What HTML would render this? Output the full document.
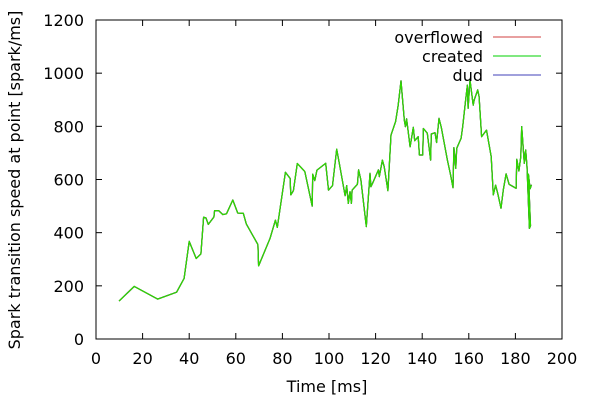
<!DOCTYPE html>
<html><head><meta charset="utf-8"><style>
body{margin:0;background:#fff}
svg{display:block;font-family:"DejaVu Sans","Liberation Sans",sans-serif}
</style></head><body>
<svg id="chart" width="600" height="400">
<rect x="96" y="20" width="466" height="319" fill="none" stroke="#000" stroke-width="1"/>
<g id="axes"></g>
<g id="series"></g>
<text x="327" y="392" font-size="16" text-anchor="middle">Time [ms]</text>
<text transform="translate(20,180) rotate(-90)" font-size="16" text-anchor="middle">Spark transition speed at point [spark/ms]</text>
<g>
<text x="483" y="43" font-size="16" text-anchor="end">overflowed</text>
<line x1="493" y1="37" x2="541" y2="37" stroke="#c00000" stroke-width="0.8"/>
<text x="483" y="62" font-size="16" text-anchor="end">created</text>
<line x1="493" y1="56" x2="541" y2="56" stroke="#00d000" stroke-width="1"/>
<text x="483" y="81" font-size="16" text-anchor="end">dud</text>
<line x1="493" y1="75" x2="541" y2="75" stroke="#0000a0" stroke-width="0.8"/>
</g>
</svg>
<script>
const xTicks=[0,20,40,60,80,100,120,140,160,180,200];
const yTicks=[0,200,400,600,800,1000,1200];
const times=[9.9,16.4,26.5,34.6,37.8,40,43,45,46.2,47.2,48.2,50.6,50.9,52.6,54.4,56,58.7,60.8,63.2,64.5,69.5,69.8,74.7,77,77.8,81.3,83.3,83.6,84.7,86.4,89.6,92.8,93,93.9,94.8,98.6,99.8,101.5,103.3,104.4,106.9,107.6,108.3,109,109.6,109.9,112.2,112.7,113.7,116,117.6,118,118.7,121.2,121.6,122.9,123.7,125.3,126.6,128.6,129.7,130.9,132.3,132.8,133.3,134.8,136.2,136.8,138.3,138.8,140.2,140.5,142.2,143.6,143.9,145.5,146.2,147.2,148.2,150.8,152.2,153.2,153.6,154.4,154.8,156.7,157.4,158.7,159.4,159.7,160.5,161.9,162.3,163.8,164.4,165.5,167.6,169.6,170.5,171.5,172.4,173.8,174.8,176,177.3,180.3,180.6,181.5,182.3,182.7,183.8,184.4,185,186,186.5,185.6,186.3,186.9];
const created=[143,198,150,176,228,367,303,320,458,455,431,459,483,483,468,471,523,474,473,433,355,275,379,447,420,627,604,542,558,660,630,500,620,596,635,661,560,577,714,661,539,577,510,554,510,560,582,636,598,423,623,573,586,636,611,673,648,558,767,818,880,971,824,799,828,723,796,746,761,692,692,792,774,673,771,776,739,830,796,673,617,569,720,642,717,755,799,905,955,868,974,880,899,937,911,761,786,686,542,579,548,492,561,621,582,567,676,632,686,799,661,711,648,416,426,620,565,580];
const overflowed=created.slice();
const dud=created.slice();
const NS='http://www.w3.org/2000/svg';
const X0=96,X1=562,Y0=339,Y1=20;
function sx(t){return X0+(t-0)/(200-0)*(X1-X0);}
function sy(v){return Y0-(v-0)/(1200-0)*(Y0-Y1);}
const axes=document.getElementById('axes');
function mk(tag,attrs,parent){const e=document.createElementNS(NS,tag);for(const k in attrs)e.setAttribute(k,attrs[k]);parent.appendChild(e);return e;}
xTicks.forEach(t=>{
 const l1=mk('line',{x1:sx(t),x2:sx(t),y1:Y0,y2:Y0-6,stroke:'#000'},axes);
 
 
 const l2=mk('line',{x1:sx(t),x2:sx(t),y1:Y1,y2:Y1+6,stroke:'#000'},axes);
 
 
 const tx=mk('text',{x:sx(t),y:364,'font-size':16,'text-anchor':'middle'},axes);
 tx.textContent=t;
 
 
});
yTicks.forEach(v=>{
 const l1=mk('line',{x1:X0,x2:X0+6,y1:sy(v),y2:sy(v),stroke:'#000'},axes);
 
 
 const l2=mk('line',{x1:X1,x2:X1-6,y1:sy(v),y2:sy(v),stroke:'#000'},axes);
 
 
 const tx=mk('text',{x:84,y:sy(v)+6,'font-size':16,'text-anchor':'end'},axes);
 tx.textContent=v;
 
 
});
const series=document.getElementById('series');
function draw(vals,color,name,w){
 const pts=vals.map((v,i)=>sx(times[i]).toFixed(1)+','+sy(v).toFixed(1)).join(' ');
 const p=mk('polyline',{points:pts,fill:'none',stroke:color,'stroke-width':w,'stroke-linejoin':'round'},series);
 
 
}
draw(overflowed,'#e00000','line-overflowed',1.2);
draw(dud,'#0000c0','line-dud',1.2);
draw(created,'#30d800','line-created',1.3);
</script>
</body></html>
